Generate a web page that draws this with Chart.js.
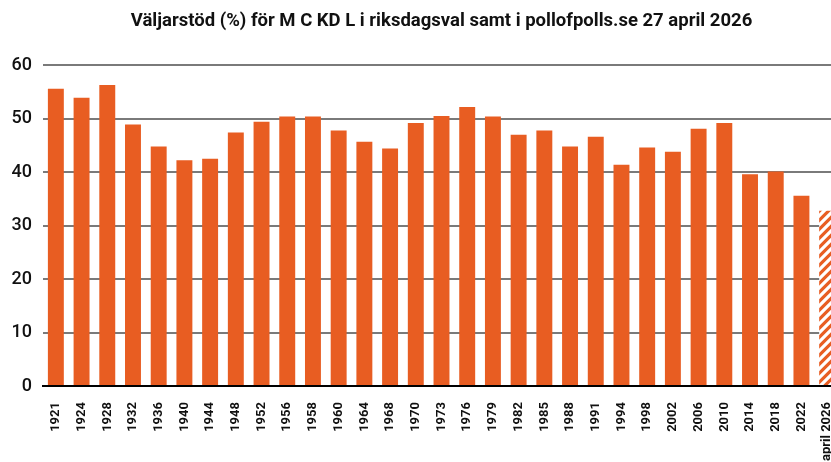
<!DOCTYPE html>
<html>
<head>
<meta charset="utf-8">
<script src="https://cdn.jsdelivr.net/npm/chart.js@4"></script>
<style>
  html, body { margin: 0; padding: 0; background: #fff; overflow: hidden; }
  #wrap { width: 831px; height: 462px; overflow: hidden; position: relative; }
  #box { position: absolute; left: 0; top: 0; width: 884px; height: 462px; }
</style>
</head>
<body>
<div id="wrap"><div id="box"><canvas id="chart"></canvas></div></div>
<script>
const years = ['1921', '1924', '1928', '1932', '1936', '1940', '1944', '1948', '1952', '1956',
  '1958', '1960', '1964', '1968', '1970', '1973', '1976', '1979', '1982', '1985',
  '1988', '1991', '1994', '1998', '2002', '2006', '2010', '2014', '2018', '2022', 'april 2026'];
const support = [55.6, 53.9, 56.3, 48.9, 44.8, 42.2, 42.5, 47.4, 49.4, 50.4,
  50.4, 47.8, 45.7, 44.4, 49.2, 50.5, 52.2, 50.4, 47.0, 47.8,
  44.8, 46.6, 41.4, 44.6, 43.8, 48.1, 49.2, 39.6, 40.1, 35.6, 32.8];
const yTicks = [0, 10, 20, 30, 40, 50, 60];

const orange = '#e85d22';

// striped fill for the poll bar
const pc = document.createElement('canvas');
pc.width = 9;
pc.height = 9;
const p = pc.getContext('2d');
p.fillStyle = orange;
p.fillRect(0, 0, 9, 9);
p.strokeStyle = '#fff';
p.lineWidth = 3.2;
p.beginPath();
p.moveTo(-2, 11); p.lineTo(11, -2);
p.moveTo(-2, 2); p.lineTo(2, -2);
p.moveTo(7, 11); p.lineTo(11, 7);
p.stroke();
const hatch = p.createPattern(pc, 'repeat');

const colors = years.map((y, i) => i === years.length - 1 ? hatch : orange);

const ctx = document.getElementById('chart').getContext('2d');
new Chart(ctx, {
  type: 'bar',
  data: {
    labels: years,
    datasets: [{
      data: support,
      backgroundColor: colors,
      borderWidth: 0,
      barPercentage: 0.62,
      categoryPercentage: 1
    }]
  },
  options: {
    responsive: true,
    maintainAspectRatio: false,
    animation: false,
    layout: { padding: { left: 0, right: 44, top: 0, bottom: 0 } },
    plugins: {
      legend: { display: false },
      tooltip: { enabled: false },
      title: {
        display: true,
        fullSize: false,
        text: 'Väljarstöd (%) för M C KD L i riksdagsval samt i pollofpolls.se 27 april 2026',
        color: '#111',
        font: { family: 'Roboto', size: 18.5, weight: 'bold' },
        padding: { top: 10, bottom: 33 }
      }
    },
    scales: {
      x: {
        grid: { display: false },
        border: { display: true, color: '#000', width: 2 },
        ticks: {
          color: '#111',
          font: { family: 'Roboto', size: 13, weight: 'bold' },
          minRotation: 90,
          maxRotation: 90,
          autoSkip: false,
          padding: 8
        },
        afterFit: function(scale) { scale.height = 76; }
      },
      y: {
        min: 0,
        max: 60,
        afterBuildTicks: function(scale) { scale.ticks = yTicks.map(v => ({ value: v })); },
        border: { display: false },
        grid: {
          color: c => c.tick && c.tick.value === 0 ? 'rgba(0,0,0,0)' : '#7a7a7a',
          lineWidth: 2,
          drawTicks: false
        },
        ticks: {
          color: '#111',
          font: { family: 'Roboto', size: 18, weight: '500' },
          padding: 11
        },
        afterFit: function(scale) { scale.width = 43; }
      }
    }
  }
});
</script>
</body>
</html>
